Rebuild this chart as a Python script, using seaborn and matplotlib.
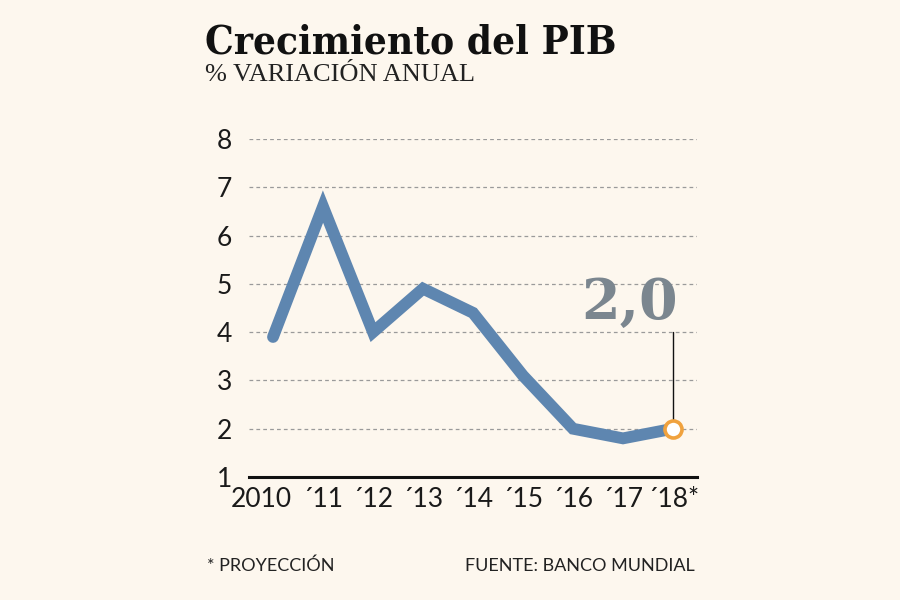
import matplotlib
matplotlib.use("Agg")
import matplotlib.pyplot as plt
import matplotlib.transforms as mtransforms
import seaborn as sns
import pandas as pd

years = [2010, 2011, 2012, 2013, 2014, 2015, 2016, 2017, 2018]
growth = [3.9, 6.6, 4.0, 4.9, 4.4, 3.1, 2.0, 1.8, 2.0]
xlabels = ["2010", "´11", "´12", "´13", "´14", "´15", "´16", "´17", "´18*"]
yticks = [1, 2, 3, 4, 5, 6, 7, 8]
highlight_label = "2,0"

bg = "#fdf7ee"
line_c = "#5e86b0"
txt = "#1a1a1a"

sns.set_theme(style="white")
plt.rcParams["font.family"] = ["Lato", "DejaVu Sans"]

df = pd.DataFrame({"year": years, "pib": growth})

fig = plt.figure(figsize=(9, 6), dpi=100, facecolor=bg)
ax = fig.add_axes([249/900, 123/600, 448/900, 338/600])
ax.set_facecolor(bg)

sns.lineplot(data=df, x="year", y="pib", ax=ax, color=line_c, linewidth=8.5,
             solid_joinstyle="miter", solid_capstyle="round", zorder=3, clip_on=False)

ax.set_xlim(years[0] - 0.48, years[-1] + 0.48)
ax.set_ylim(1, 8)
ax.set_yticks(yticks)
ax.set_yticklabels([str(v) for v in yticks])
ax.set_xticks(years)
ax.set_xticklabels(xlabels)

for v in yticks[1:]:
    ax.axhline(v, color="#9a9a9a", linewidth=0.9, linestyle=(0, (3, 2.5)), zorder=1)

for s in ["top", "right", "left"]:
    ax.spines[s].set_visible(False)
ax.spines["bottom"].set_color("#111111")
ax.spines["bottom"].set_linewidth(2.2)
ax.tick_params(axis="y", length=0, pad=17, labelsize=19, labelcolor=txt)
ax.tick_params(axis="x", length=0, pad=7, labelsize=19, labelcolor=txt)
ax.set_xlabel("")
ax.set_ylabel("")
for t in ax.get_yticklabels():
    t.set_horizontalalignment("left")
    t.set_transform(t.get_transform() + mtransforms.ScaledTranslation(-0.085, 0, fig.dpi_scale_trans))
first = ax.get_xticklabels()[0]
first.set_transform(first.get_transform() + mtransforms.ScaledTranslation(-0.12, 0, fig.dpi_scale_trans))

# highlight last point
lx, ly = years[-1], growth[-1]
ax.plot([lx, lx], [ly, 4.0], color="#111111", linewidth=1.0, zorder=4, clip_on=False)
ax.scatter([lx], [ly], s=150, facecolor="white", edgecolor="#f0a23e", linewidth=2.6, zorder=5, clip_on=False)
ax.text(lx + 0.1, 4.02, highlight_label, ha="right", va="bottom", fontsize=40,
        fontweight="bold", color="#7b868f", family=["DejaVu Serif"], zorder=5)

fig.text(205/900, 1 - 53/600, "Crecimiento del PIB", fontsize=29, fontweight="bold",
         fontstretch="condensed", family=["DejaVu Serif"], color="#111111",
         ha="left", va="baseline")
fig.text(205/900, 1 - 81/600, "% VARIACIÓN ANUAL", fontsize=19,
         family=["Liberation Serif"], color="#222222", ha="left", va="baseline")

fig.text(207/900, 1 - 571/600, "* PROYECCIÓN", fontsize=13, color="#222222",
         ha="left", va="baseline")
fig.text(695/900, 1 - 571/600, "FUENTE: BANCO MUNDIAL", fontsize=13, color="#222222",
         ha="right", va="baseline")

fig.savefig("out.png", dpi=100, facecolor=bg)
